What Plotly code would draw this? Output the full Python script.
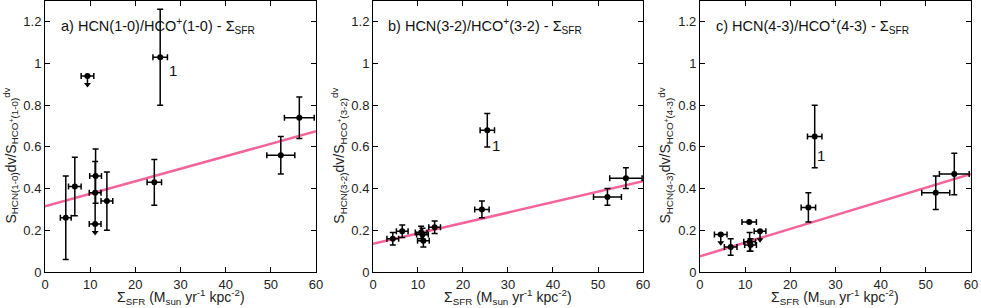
import plotly.graph_objects as go

# ---------------- data ----------------
x_ticks = [0, 10, 20, 30, 40, 50, 60]
y_ticks = [0, 0.2, 0.4, 0.6, 0.8, 1.0, 1.2]
y_ticklabels = ["0", "0.2", "0.4", "0.6", "0.8", "1", "1.2"]

# panel a: HCN(1-0)/HCO+(1-0)
x_a = [4.6, 6.6, 9.4, 11.2, 11.1, 11.1, 13.7, 24.2, 25.5, 52.2, 56.3]
y_a = [0.26, 0.41, 0.94, 0.46, 0.38, 0.23, 0.34, 0.43, 1.03, 0.56, 0.74]
xerr_a = [1.2, 1.4, 1.4, 1.3, 1.3, 1.3, 1.3, 1.6, 1.6, 3.1, 3.3]
yerr_a = [0.20, 0.14, 0.0, 0.13, 0.15, 0.0, 0.14, 0.11, 0.23, 0.09, 0.10]
ul_a = [0, 0, 1, 0, 0, 1, 0, 0, 0, 0, 0]
fit_a = [0.315, 0.675]

# panel b: HCN(3-2)/HCO+(3-2)
x_b = [4.4, 6.5, 10.7, 11.0, 11.2, 13.7, 24.2, 25.4, 52.1, 56.2]
y_b = [0.16, 0.195, 0.19, 0.18, 0.15, 0.215, 0.30, 0.68, 0.36, 0.45]
xerr_b = [1.3, 1.3, 1.3, 1.3, 1.3, 1.3, 1.6, 1.6, 3.1, 3.6]
yerr_b = [0.03, 0.03, 0.03, 0.03, 0.03, 0.03, 0.04, 0.08, 0.04, 0.05]
ul_b = [0] * 10
fit_b = [0.135, 0.435]

# panel c: HCN(4-3)/HCO+(4-3)
x_c = [4.6, 6.8, 10.9, 11.0, 11.2, 13.3, 24.0, 25.4, 52.2, 56.3]
y_c = [0.18, 0.12, 0.24, 0.145, 0.13, 0.195, 0.31, 0.65, 0.38, 0.47]
xerr_c = [1.4, 1.4, 1.6, 1.3, 1.3, 1.3, 1.6, 1.6, 3.1, 3.3]
yerr_c = [0.0, 0.04, 0.0, 0.045, 0.03, 0.0, 0.07, 0.15, 0.08, 0.10]
ul_c = [1, 0, 0, 0, 0, 1, 0, 0, 0, 0]
fit_c = [0.075, 0.47]

fit_x = [0, 60]

titles = ["a) HCN(1-0)/HCO<sup>+</sup>(1-0) - Σ<sub>SFR</sub>",
          "b) HCN(3-2)/HCO<sup>+</sup>(3-2) - Σ<sub>SFR</sub>",
          "c) HCN(4-3)/HCO<sup>+</sup>(4-3) - Σ<sub>SFR</sub>"]
ylabels = ["S<sub>HCN(1-0)</sub>dv/S<sub>HCO<sup>+</sup>(1-0)</sub><sup>dv</sup>",
           "S<sub>HCN(3-2)</sub>dv/S<sub>HCO<sup>+</sup>(3-2)</sub><sup>dv</sup>",
           "S<sub>HCN(4-3)</sub>dv/S<sub>HCO<sup>+</sup>(4-3)</sub><sup>dv</sup>"]
xlabel = "Σ<sub>SFR</sub> (M<sub>sun</sub> yr<sup>-1</sup> kpc<sup>-2</sup>)"
label1_pos = [(28.4, 0.965), (27.4, 0.605), (26.9, 0.56)]

# ---------------- figure ----------------
FONT = "Liberation Sans, Arial, Helvetica, sans-serif"
PINK = "#f4649c"
domains = [[0.0, 0.2927], [0.3542, 0.6458], [0.7073, 1.0]]
panels = [(x_a, y_a, xerr_a, yerr_a, ul_a, fit_a),
          (x_b, y_b, xerr_b, yerr_b, ul_b, fit_b),
          (x_c, y_c, xerr_c, yerr_c, ul_c, fit_c)]

fig = go.Figure()
layout = dict(
    width=981, height=308,
    margin=dict(l=45, r=10, t=1, b=36, autoexpand=False),
    plot_bgcolor="white", paper_bgcolor="white",
    showlegend=False,
    font=dict(family=FONT, size=13, color="#222"),
)
annotations = []
ARROW = 0.04

for i, (xs, ys, xe, ye, ul, fit) in enumerate(panels):
    n = "" if i == 0 else str(i + 1)
    xr, yr = "x" + n, "y" + n
    fig.add_trace(go.Scatter(x=fit_x, y=fit, mode="lines", xaxis=xr, yaxis=yr,
                             line=dict(color=PINK, width=2.5), hoverinfo="skip"))
    fig.add_trace(go.Scatter(
        x=xs, y=ys, mode="markers", xaxis=xr, yaxis=yr,
        marker=dict(color="black", size=6, symbol="circle"),
        error_x=dict(type="data", array=xe, color="black", thickness=1.5, width=3),
        error_y=dict(type="data", array=ye, color="black", thickness=1.5, width=3),
    ))
    ux = [x for x, u in zip(xs, ul) if u]
    uy = [y for y, u in zip(ys, ul) if u]
    if ux:
        fig.add_trace(go.Scatter(
            x=ux, y=uy, mode="markers", xaxis=xr, yaxis=yr,
            marker=dict(color="black", size=1),
            error_y=dict(type="data", symmetric=False, array=[0] * len(ux),
                         arrayminus=[ARROW] * len(ux), color="black", thickness=1.5, width=0),
        ))
        fig.add_trace(go.Scatter(
            x=ux, y=[y - ARROW for y in uy], mode="markers", xaxis=xr, yaxis=yr,
            marker=dict(color="black", size=6, symbol="triangle-down"),
        ))

    axis_common = dict(showline=True, linecolor="black", linewidth=1, mirror="ticks",
                       ticks="inside", ticklen=5, tickwidth=1, tickcolor="black",
                       showgrid=False, zeroline=False, automargin=False,
                       tickfont=dict(family=FONT, size=13, color="#222"))
    layout["xaxis" + n] = dict(domain=domains[i], range=[0, 60], anchor=yr,
                               tickvals=x_ticks, **axis_common)
    layout["yaxis" + n] = dict(domain=[0, 1], range=[0, 1.3], anchor=xr,
                               tickvals=y_ticks, ticktext=y_ticklabels, **axis_common)

    dref = xr + " domain"
    annotations.append(dict(text=titles[i], xref=xr, yref=yr, x=3, y=1.18,
                            xanchor="left", yanchor="middle", showarrow=False,
                            font=dict(family=FONT, size=14.5, color="#111")))
    annotations.append(dict(text="1", xref=xr, yref=yr, x=label1_pos[i][0], y=label1_pos[i][1],
                            xanchor="center", yanchor="middle", showarrow=False,
                            font=dict(family=FONT, size=15, color="#111")))
    annotations.append(dict(text=ylabels[i], xref=dref, yref=yr + " domain",
                            x=-0.125, y=0.43, textangle=-90, xanchor="center", yanchor="middle",
                            showarrow=False, font=dict(family=FONT, size=14, color="#222")))
    annotations.append(dict(text=xlabel, xref=dref, yref=yr + " domain",
                            x=0.5, y=-0.093, xanchor="center", yanchor="middle",
                            showarrow=False, font=dict(family=FONT, size=14, color="#222")))

layout["annotations"] = annotations
fig.update_layout(**layout)
fig.write_html("out.html", config={"displayModeBar": False},
               post_script="document.body.style.margin='0';document.body.style.padding='0';")
